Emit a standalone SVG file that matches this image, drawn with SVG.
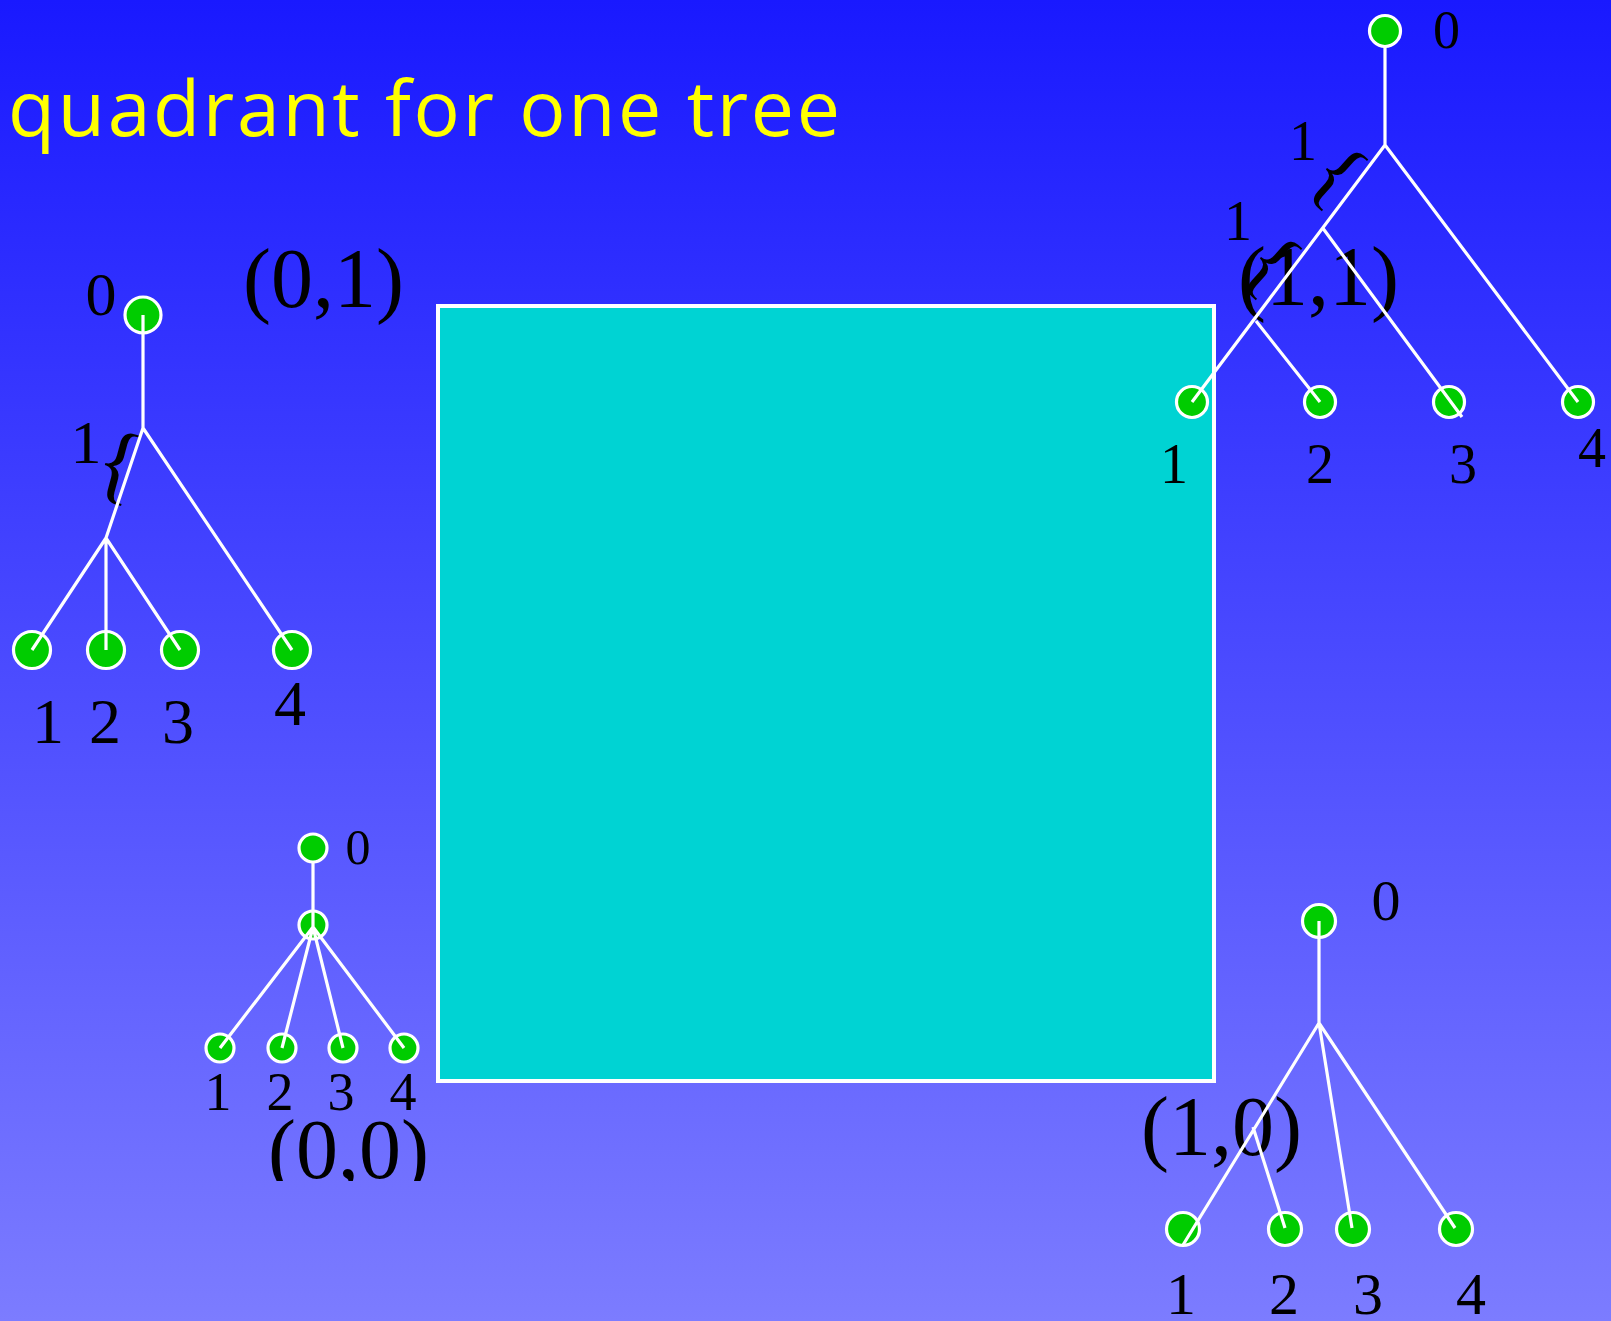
<svg xmlns="http://www.w3.org/2000/svg" width="1611" height="1321" viewBox="0 0 1611 1321">
<defs>
<linearGradient id="bg" x1="0" y1="0" x2="0" y2="1">
<stop offset="0" stop-color="#1919ff"/>
<stop offset="1" stop-color="#7c7cff"/>
</linearGradient>
<clipPath id="clip00"><rect x="200" y="1080" width="300" height="101"/></clipPath>
<style>
.n{fill:#00cc00;stroke:#ffffff;stroke-width:3.2}
.e{stroke:#ffffff;stroke-width:3.2;fill:none}
.t{font-family:"Liberation Serif","Times New Roman",serif;fill:#000000}
.m{text-anchor:middle}
.q{font-size:84px}
</style>
</defs>
<rect x="0" y="0" width="1611" height="1321" fill="url(#bg)"/>
<text x="8" y="136" font-family="'Open Sans','DejaVu Sans',sans-serif" font-size="77" fill="#ffff00" textLength="832" lengthAdjust="spacing">quadrant for one tree</text>
<g id="quadrant">
<rect x="438" y="306" width="776" height="775" fill="#00d3d3" stroke="#ffffff" stroke-width="4"/>
</g>
<g id="corner-labels">
<text class="t q" x="243" y="307">(0,1)</text>
<text class="t q" x="1238" y="305">(1,1)</text>
<text class="t q" x="1141" y="1155">(1,0)</text>
<text class="t q" x="268" y="1178" clip-path="url(#clip00)">(0,0)</text>
</g>
<g id="tree-01">
<circle class="n" cx="143" cy="315" r="18"/>
<circle class="n" cx="32" cy="650" r="18.5"/>
<circle class="n" cx="106" cy="650" r="18.5"/>
<circle class="n" cx="180" cy="650" r="18.5"/>
<circle class="n" cx="292" cy="650" r="18.5"/>
<text class="t m" x="101" y="315" font-size="62">0</text>
<text class="t m" x="86" y="463" font-size="62">1</text>
<g transform="translate(117,470) rotate(15)"><text class="t m" x="0" y="22" font-size="88">{</text></g>
<text class="t m" x="48" y="743" font-size="64">1</text>
<text class="t m" x="105" y="743" font-size="64">2</text>
<text class="t m" x="178" y="743" font-size="64">3</text>
<text class="t m" x="290" y="725" font-size="64">4</text>
</g>
<g id="tree-11">
<circle class="n" cx="1385" cy="31" r="15.5"/>
<circle class="n" cx="1192" cy="402" r="15.5"/>
<circle class="n" cx="1320" cy="402" r="15.5"/>
<circle class="n" cx="1449" cy="402" r="15.5"/>
<circle class="n" cx="1578" cy="402" r="15.5"/>
<text class="t" x="1433" y="48" font-size="54">0</text>
<text class="t" x="1289" y="160" font-size="56">1</text>
<g transform="translate(1334,179) rotate(42)"><text class="t m" x="0" y="21" font-size="84">{</text></g>
<text class="t" x="1224" y="240" font-size="56">1</text>
<g transform="translate(1268,268) rotate(42)"><text class="t m" x="0" y="21" font-size="84">{</text></g>
<text class="t m" x="1174" y="483" font-size="56">1</text>
<text class="t m" x="1320" y="483" font-size="56">2</text>
<text class="t m" x="1463" y="483" font-size="56">3</text>
<text class="t m" x="1592" y="467" font-size="56">4</text>
</g>
<g id="tree-00">
<circle class="n" cx="313" cy="848" r="14"/>
<circle class="n" cx="313" cy="925" r="14"/>
<circle class="n" cx="220" cy="1048" r="14"/>
<circle class="n" cx="282" cy="1048" r="14"/>
<circle class="n" cx="343" cy="1048" r="14"/>
<circle class="n" cx="404" cy="1048" r="14"/>
<text class="t m" x="358" y="864" font-size="50">0</text>
<text class="t m" x="218" y="1110" font-size="54">1</text>
<text class="t m" x="280" y="1110" font-size="54">2</text>
<text class="t m" x="341" y="1110" font-size="54">3</text>
<text class="t m" x="403" y="1110" font-size="54">4</text>
</g>
<g id="tree-10">
<circle class="n" cx="1319" cy="921" r="16.5"/>
<circle class="n" cx="1183" cy="1229" r="16.5"/>
<circle class="n" cx="1285" cy="1229" r="16.5"/>
<circle class="n" cx="1353" cy="1229" r="16.5"/>
<circle class="n" cx="1456" cy="1229" r="16.5"/>
<text class="t m" x="1386" y="920" font-size="58">0</text>
<text class="t m" x="1181" y="1314" font-size="60">1</text>
<text class="t m" x="1284" y="1314" font-size="60">2</text>
<text class="t m" x="1368" y="1314" font-size="60">3</text>
<text class="t m" x="1471" y="1314" font-size="60">4</text>
</g>
<g id="connectors">
<path class="e" d="M143 315V428M143 428L106 538M143 428L292 650M106 538L32 650M106 538V650M106 538L180 650"/>
<path class="e" d="M1385 47V145M1385 145L1192 402M1385 145L1578 402M1322 227L1462 417M1256 321L1320 402"/>
<path class="e" d="M313 862V927M313 927L220 1048M313 927L282 1048M313 927L343 1048M313 927L404 1048"/>
<path class="e" d="M1319 921V1023M1319 1023L1183 1245M1319 1023L1352 1228M1319 1023L1455 1228M1253 1127L1285 1228"/>
</g>
</svg>
